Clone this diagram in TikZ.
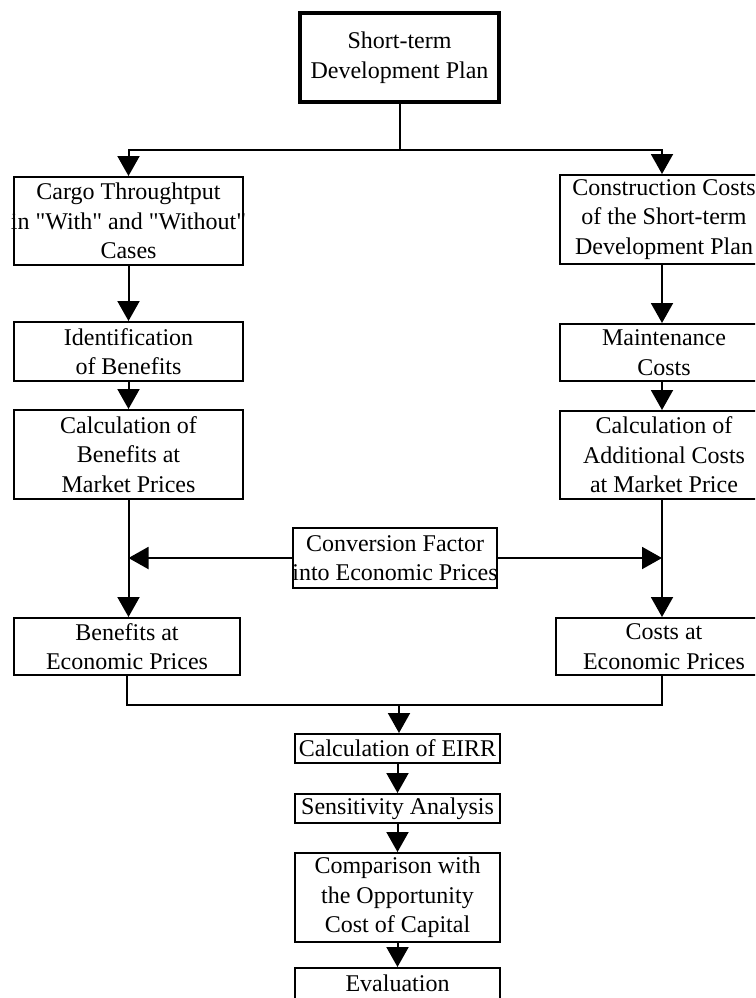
\documentclass[tikz,border=0pt]{standalone}
\usepackage{fontspec}
\setmainfont{Liberation Serif}[Ligatures=TeXOff]
\usetikzlibrary{arrows.meta}
\tikzset{box/.style = {draw, line width=2pt, inner sep=0, align=center,
                       font=\fontsize{24}{29.5}\selectfont}}
\tikzset{lbox/.style = {box, minimum width=229pt}}
\tikzset{rbox/.style = {box, minimum width=208pt}}
\tikzset{cbox/.style = {box, minimum width=205pt}}
\tikzset{arr/.style = {line width=2pt, -{Triangle[width=22pt, length=20pt]}}}
\tikzset{wire/.style = {line width=2pt}}
\newcommand\overrun[1]{\makebox[0pt]{#1}}

\begin{document}
\begin{tikzpicture}[x=1pt, y=-1pt]
      \useasboundingbox (0,0) rectangle (755,998);
      \clip (0,0) rectangle (755,998);
      \node [box, line width=4pt, minimum width=199pt, minimum height=89pt] (plan) at (399.5,57.5) {Short-term\\Development Plan};
      \node [lbox, minimum height=88pt] (cargo) at (128.5,221) {Cargo Throughtput\\\overrun{in "With" and "Without"}\\Cases};
      \node [rbox, minimum height=89pt] (constr) at (664,219.5) {Construction Costs\\of the Short-term\\Development Plan};
      \node [lbox, minimum height=59pt] (ident) at (128.5,351.5) {Identification\\of Benefits};
      \node [rbox, minimum height=57pt] (maint) at (664,352.5) {Maintenance\\Costs};
      \node [lbox, minimum height=89pt] (calcben) at (128.5,454.5) {Calculation of\\Benefits at\\Market Prices};
      \node [rbox, minimum height=88pt] (calccost) at (664,455) {Calculation of\\Additional Costs\\at Market Price};
      \node [box, minimum width=204pt, minimum height=60pt] (conv) at (395,558) {Conversion Factor\\\overrun{into Economic Prices}};
      \node [box, minimum width=226pt, minimum height=57pt] (benecon) at (127,646.5) {Benefits at\\Economic Prices};
      \node [box, minimum width=216pt, minimum height=57pt] (costecon) at (664,646.5) {Costs at\\Economic Prices};
      \node [cbox, minimum height=29pt] (eirr) at (397.5,748.5) {Calculation of EIRR};
      \node [cbox, minimum height=29pt] (sens) at (397.5,808.5) {Sensitivity Analysis};
      \node [cbox, minimum height=89pt] (comp) at (397.5,897.5) {Comparison with\\the Opportunity\\Cost of Capital};
      \node [cbox, minimum height=31pt] (eval) at (397.5,983.5) {Evaluation};
      \coordinate (split) at (399.5,150);
      \coordinate (merge) at (399,705);
      % top fork
      \draw [wire] (plan) -- (split);
      \draw [arr] (split) -| ([xshift=-2pt]constr.north);
      \draw [arr] (split) -| (cargo);
      % benefit side
      \draw [arr] (cargo) -- (ident);
      \draw [arr] (ident) -- (calcben);
      \draw [arr] (calcben) -- (calcben |- benecon.north);
      % cost side
      \draw [arr] ([xshift=-2pt]constr.south) -- ([xshift=-2pt]maint.north);
      \draw [arr] ([xshift=-2pt]maint.south) -- ([xshift=-2pt]calccost.north);
      \draw [arr] ([xshift=-2pt]calccost.south) -- ([xshift=-2pt]costecon.north);
      % conversion factor
      \draw [arr] (conv) -- (calcben |- conv);
      \draw [arr] (conv) -- ([xshift=-2pt]calccost.south |- conv);
      % evaluation chain
      \draw [wire] (benecon) |- (merge) -| ([xshift=-2pt]costecon.south);
      \draw [arr] (merge) -- (merge |- eirr.north);
      \draw [arr] (eirr) -- (sens);
      \draw [arr] (sens) -- (comp);
      \draw [arr] (comp) -- (eval);
    \end{tikzpicture}
\end{document}
